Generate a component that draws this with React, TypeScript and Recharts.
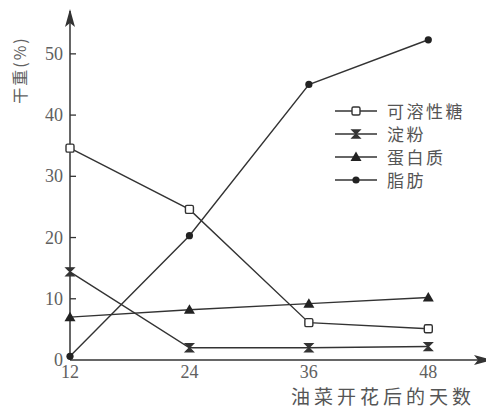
import React from "react";
import { Legend, Line, LineChart, XAxis, YAxis } from "recharts";

const days = [12, 24, 36, 48];
const sugar = [34.6, 24.6, 6.1, 5.1];
const starch = [14.4, 2, 2, 2.2];
const protein = [7, 8.2, 9.2, 10.2];
const fat = [0.6, 20.3, 45, 52.3];
const yTicks = [0, 10, 20, 30, 40, 50];

const series = [
  { key: "sugar", name: "可溶性糖", values: sugar, shape: "square" },
  { key: "starch", name: "淀粉", values: starch, shape: "hourglass" },
  { key: "protein", name: "蛋白质", values: protein, shape: "triangle" },
  { key: "fat", name: "脂肪", values: fat, shape: "circle" },
];

const rows = days.map((day, i) => {
  const row: Record<string, number> = { day };
  series.forEach((s) => {
    row[s.key] = s.values[i];
  });
  return row;
});

const INK = "#333";
const TEXT = "#606060";
const SERIF = "'Liberation Serif', 'DejaVu Serif', serif";
const CJK = "'Noto Sans CJK SC', 'Noto Sans', sans-serif";

function Marker({ shape, cx, cy }: { shape: string; cx: number; cy: number }) {
  if (shape === "square") {
    return (
      <rect x={cx - 4} y={cy - 4} width={8} height={8} rx={1.5} fill="#fff" stroke={INK} strokeWidth={1.4} />
    );
  }
  if (shape === "hourglass") {
    return (
      <g stroke={INK} strokeWidth={1.3}>
        <path d={`M${cx - 4},${cy - 4} L${cx + 4},${cy - 4} L${cx - 4},${cy + 4} L${cx + 4},${cy + 4} Z`} fill={INK} />
      </g>
    );
  }
  if (shape === "triangle") {
    return <path d={`M${cx},${cy - 5.5} L${cx + 5.5},${cy + 4} L${cx - 5.5},${cy + 4} Z`} fill="#222" />;
  }
  return <circle cx={cx} cy={cy} r={3.6} fill="#222" />;
}

const dotFor = (shape: string) => (props: any) => {
  const { cx, cy, index } = props;
  if (cx == null || cy == null) return <g key={`${shape}-${index}`} />;
  return (
    <g key={`${shape}-${index}`}>
      <Marker shape={shape} cx={cx} cy={cy} />
    </g>
  );
};

function YTick(props: any) {
  const { x, y, payload } = props;
  const axisX = x + 7;
  return (
    <g>
      <text x={x} y={y} textAnchor="end" dominantBaseline="central" fill={TEXT} fontSize={18} fontFamily={SERIF}>
        {payload.value}
      </text>
      {payload.value !== 0 && <line x1={axisX} y1={y} x2={axisX + 6} y2={y} stroke={INK} strokeWidth={1.3} />}
    </g>
  );
}

function LegendBox() {
  return (
    <div style={{ display: "flex", flexDirection: "column" }}>
      {series.map((s) => (
        <div key={s.key} style={{ display: "flex", alignItems: "center", height: 23 }}>
          <svg width={52} height={20}>
            <line x1={0} y1={10} x2={42} y2={10} stroke={INK} strokeWidth={1.5} />
            <Marker shape={s.shape} cx={21} cy={10} />
          </svg>
          <span style={{ fontFamily: CJK, fontSize: 17, color: "#555", letterSpacing: 2.5, lineHeight: "20px" }}>
            {s.name}
          </span>
        </div>
      ))}
    </div>
  );
}

export default function App() {
  return (
    <div style={{ position: "relative", width: 486, height: 406 }}>
      <svg width={0} height={0} style={{ position: "absolute" }}>
        <defs>
          <marker
            id="arrowHead"
            viewBox="0 0 18 10"
            refX={16}
            refY={5}
            markerWidth={18}
            markerHeight={10}
            markerUnits="userSpaceOnUse"
            orient="auto-start-reverse"
          >
            <path d="M0,0 L18,5 L0,10 L4,5 Z" fill={INK} />
          </marker>
        </defs>
      </svg>
      <LineChart width={486} height={406} data={rows} margin={{ top: 3, right: 4, bottom: 24, left: 10 }}>
        <XAxis
          dataKey="day"
          type="number"
          domain={[12, 54.2]}
          ticks={days}
          height={30}
          tickSize={0}
          tickMargin={5}
          axisLine={{ stroke: INK, strokeWidth: 1.5, markerEnd: "url(#arrowHead)" }}
          tick={{ fill: TEXT, fontSize: 18, fontFamily: SERIF }}
          label={{
            content: (p: any) => {
              const vb = p.viewBox;
              return (
                <text
                  x={vb.x + vb.width - 15}
                  y={vb.y + vb.height + 14}
                  textAnchor="end"
                  fill="#555"
                  fontSize={19}
                  fontFamily={CJK}
                  letterSpacing={4}
                >
                  油菜开花后的天数
                </text>
              );
            },
          }}
        />
        <YAxis
          type="number"
          domain={[0, 57]}
          ticks={yTicks}
          width={52}
          tickSize={0}
          tickMargin={7}
          axisLine={{ stroke: INK, strokeWidth: 1.5, markerStart: "url(#arrowHead)" }}
          tick={<YTick />}
          label={{
            content: (p: any) => {
              const vb = p.viewBox;
              const lx = vb.x + 1;
              const ly = vb.y + 59;
              return (
                <text
                  x={lx}
                  y={ly}
                  transform={`rotate(-90 ${lx} ${ly})`}
                  textAnchor="middle"
                  dominantBaseline="central"
                  fill={TEXT}
                  fontSize={16}
                  fontFamily={CJK}
                  letterSpacing={2}
                >
                  干重(%)
                </text>
              );
            },
          }}
        />
        {series.map((s) => (
          <Line
            key={s.key}
            dataKey={s.key}
            name={s.name}
            type="linear"
            stroke={INK}
            strokeWidth={1.4}
            dot={dotFor(s.shape)}
            activeDot={false}
            isAnimationActive={false}
          />
        ))}
        <Legend
          layout="vertical"
          align="center"
          verticalAlign="middle"
          content={() => <LegendBox />}
          wrapperStyle={{ left: 327, top: 91, width: 160 }}
        />
      </LineChart>
    </div>
  );
}
